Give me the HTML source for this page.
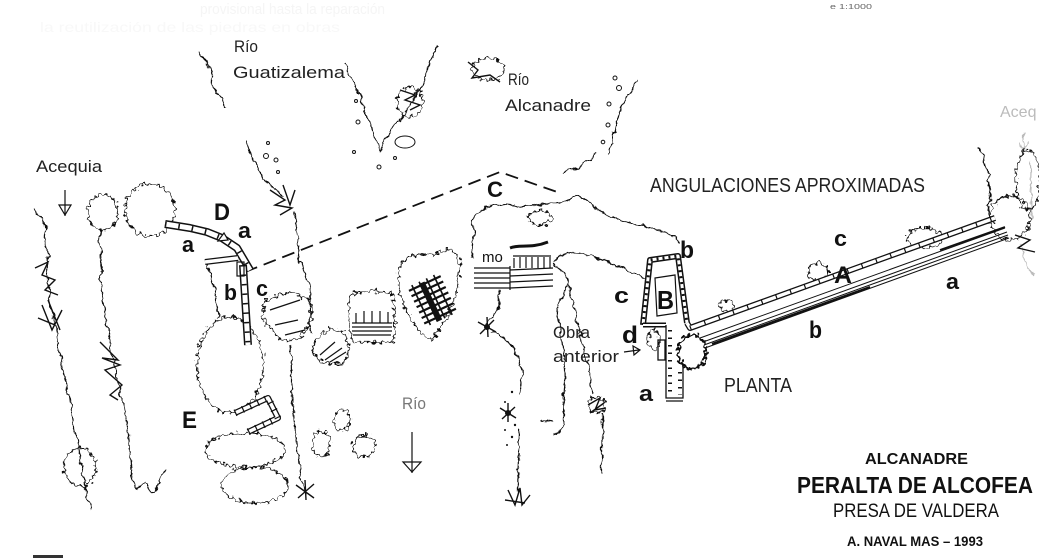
<!DOCTYPE html>
<html><head><meta charset="utf-8"><style>
html,body{margin:0;padding:0;background:#fff;}
svg{display:block;}
text{font-family:"Liberation Sans",sans-serif;}
</style></head><body>
<svg width="1039" height="559" viewBox="0 0 1039 559" xmlns="http://www.w3.org/2000/svg">
<defs>
<filter id="w1" x="0" y="0" width="1039" height="559" filterUnits="userSpaceOnUse">
<feTurbulence type="fractalNoise" baseFrequency="0.11" numOctaves="3" seed="4" result="t"/>
<feDisplacementMap in="SourceGraphic" in2="t" scale="7" xChannelSelector="R" yChannelSelector="G"/>
</filter>
<filter id="w2" x="0" y="0" width="1039" height="559" filterUnits="userSpaceOnUse">
<feTurbulence type="fractalNoise" baseFrequency="0.28" numOctaves="1" seed="9" result="t"/>
<feDisplacementMap in="SourceGraphic" in2="t" scale="10" xChannelSelector="R" yChannelSelector="G"/>
</filter>
</defs>
<rect width="1039" height="559" fill="#fff"/>

<!-- faint bleed-through -->
<text x="200" y="14" font-size="15" fill="#f5f5f5" textLength="185" lengthAdjust="spacingAndGlyphs">provisional hasta la reparación</text>
<text x="40" y="32" font-size="14" fill="#f8f8f8" textLength="300" lengthAdjust="spacingAndGlyphs">la reutilización de las piedras en obras</text>
<text x="830" y="9" font-size="7" fill="#666" textLength="42" lengthAdjust="spacingAndGlyphs">e 1:1000</text>

<!-- thin wiggly lines -->
<g fill="none" stroke="#111" stroke-width="1.2" filter="url(#w1)">
<path d="M198,52 C205,60 215,70 212,80 C210,90 225,95 226,108"/>
<path d="M345,63 C355,85 362,100 368,118 C372,130 376,140 380,150 C385,140 390,132 398,122 C410,105 420,90 425,75 C430,62 435,52 437,45"/>
<path d="M638,80 C630,95 622,100 620,110 C615,130 612,140 608,155"/>
<path d="M597,152 C590,158 585,165 575,168 C570,170 567,172 563,174"/>
<path d="M247,140 C250,155 258,165 262,178 C268,185 278,190 285,196"/>
<path d="M293,213 C296,230 300,240 298,255 C300,270 312,280 310,300 C312,315 308,325 312,335"/>
<path d="M290,345 C293,370 290,390 293,410 C295,430 298,450 300,470 C302,480 305,488 306,493"/>
<path d="M33,210 C40,215 48,222 45,232 C42,245 50,250 48,262 C45,275 52,290 48,300 C52,315 60,330 58,340 C62,360 64,380 70,395 C72,420 76,440 80,455 C82,475 86,495 92,510"/>
<path d="M100,230 C98,250 104,265 100,280 C105,300 104,310 108,330 C112,350 112,360 116,370 C118,390 125,410 128,430 C130,450 132,470 134,487 C140,497 145,470 150,490 C155,500 160,480 165,470"/>
<path d="M207,262 C212,270 208,280 215,290 C212,300 220,310 218,318"/>
<path d="M473,258 C470,245 476,235 472,222 C474,212 485,208 495,205 C510,200 520,210 535,205 C550,200 560,210 575,195 C590,200 600,215 615,218 C630,222 640,225 655,230 C668,232 676,236 679,243"/>
<path d="M553,262 C565,250 580,250 595,258 C610,262 625,270 645,278"/>
<path d="M500,290 C495,300 505,305 495,315 C488,322 485,325 487,330"/>
<path d="M490,332 C505,335 510,345 515,350 C520,365 525,375 520,395"/>
<path d="M520,430 C520,445 517,465 518,492"/>
<path d="M553,263 C560,268 570,275 568,283 C562,300 556,310 557,317 C562,340 566,360 565,383 C563,400 564,415 563,427 C560,432 556,434 553,435"/>
<path d="M568,283 C575,310 585,350 593,393"/>
<path d="M602,413 L602,473"/>
<path d="M540,420 C545,423 550,423 553,421"/>
<path d="M978,148 C990,155 980,165 990,175 C985,185 995,195 988,205 C992,210 985,215 995,222"/>
</g>
<g fill="none" stroke="#bbb" stroke-width="1.2" filter="url(#w1)">
<path d="M1030,160 C1035,180 1025,200 1033,220"/>
<path d="M1020,245 C1030,255 1020,265 1035,275"/>
<path d="M1024,132 L1024,150 M1019,143 L1024,150 L1029,143"/>
</g>
<text x="1000" y="117" font-size="16" fill="#bbb">Aceq</text>

<!-- scalloped blobs -->
<g fill="none" stroke="#111" stroke-width="1.2" filter="url(#w2)">
<ellipse cx="103" cy="212" rx="15" ry="18"/>
<ellipse cx="150" cy="210" rx="25" ry="26"/>
<ellipse cx="230" cy="365" rx="33" ry="48"/>
<ellipse cx="245" cy="450" rx="40" ry="17"/>
<ellipse cx="255" cy="485" rx="33" ry="18"/>
<path d="M265,300 L290,292 L310,300 L312,320 L298,340 L280,340 L262,318 Z"/>
<path d="M315,340 L330,328 L345,333 L350,350 L342,365 L322,362 L312,352 Z"/>
<path d="M350,294 L370,290 L393,294 L395,320 L394,342 L352,342 L348,318 Z"/>
<path d="M400,265 C410,255 420,252 430,256 L445,250 C452,248 458,255 460,262 L458,285 C455,300 448,318 442,325 L432,340 C420,335 410,320 404,305 C398,290 396,275 400,265 Z"/>
<ellipse cx="321" cy="444" rx="9" ry="13"/>
<ellipse cx="342" cy="420" rx="8" ry="11"/>
<ellipse cx="364" cy="446" rx="11" ry="11"/>
<ellipse cx="80" cy="467" rx="16" ry="19"/>
<ellipse cx="488" cy="69" rx="16" ry="11"/>
<ellipse cx="410" cy="102" rx="13" ry="15"/>
<ellipse cx="1010" cy="218" rx="20" ry="22"/>
<ellipse cx="1028" cy="180" rx="12" ry="30"/>
<ellipse cx="925" cy="238" rx="18" ry="10"/>
<ellipse cx="818" cy="272" rx="10" ry="9"/>
<ellipse cx="727" cy="306" rx="7" ry="6"/>
<ellipse cx="654" cy="340" rx="6" ry="10"/>
<ellipse cx="597" cy="405" rx="8" ry="8"/>
<ellipse cx="540" cy="218" rx="12" ry="7"/>
</g>
<g fill="none" stroke="#111" stroke-width="2.4" filter="url(#w2)">
<ellipse cx="692" cy="352" rx="14" ry="17"/>
</g>
<path d="M510,248 C520,244 530,249 548,242" stroke="#111" stroke-width="3" fill="none"/>

<!-- dashed line -->
<path d="M245,272 L500,172 L560,193" fill="none" stroke="#111" stroke-width="1.8" stroke-dasharray="13 7"/>

<!-- walls -->
<g fill="none" stroke-linejoin="round">
<polyline points="165,224 190,228 207,232 222,238 237,248 250,270" stroke="#111" stroke-width="8"/>
<polyline points="165,224 190,228 207,232 222,238 237,248 250,270" stroke="#fff" stroke-width="5"/>
<polyline points="165,224 190,228 207,232 222,238 237,248 250,270" stroke="#111" stroke-width="5" stroke-dasharray="1.5 12"/>
<path d="M205,262 L238,258" stroke="#111" stroke-width="6"/>
<path d="M205,262 L238,258" stroke="#fff" stroke-width="3.5"/>
<path d="M243,265 L248,345" stroke="#111" stroke-width="8"/>
<path d="M243,265 L248,345" stroke="#fff" stroke-width="5"/>
<path d="M243,265 L248,345" stroke="#111" stroke-width="5" stroke-dasharray="1.5 8"/>
<polyline points="235,413 268,398 278,418 248,432" stroke="#111" stroke-width="6"/>
<polyline points="235,413 268,398 278,418 248,432" stroke="#fff" stroke-width="3.5"/>
<polyline points="235,413 268,398 278,418 248,432" stroke="#111" stroke-width="7" stroke-dasharray="1.2 7"/>
<path d="M643,325 L650,260 L678,256 L687,323" stroke="#111" stroke-width="6"/>
<path d="M643,325 L650,260 L678,256 L687,323" stroke="#fff" stroke-width="3"/>
<path d="M643,325 L650,260 L678,256 L687,323" stroke="#111" stroke-width="3" stroke-dasharray="2 4"/>
<path d="M643,325 L666,325" stroke="#111" stroke-width="5"/>
<path d="M643,325 L666,325" stroke="#fff" stroke-width="2"/>
<path d="M687,323 L690,328 L995,218" stroke="#111" stroke-width="6"/>
<path d="M687,323 L690,328 L995,218" stroke="#fff" stroke-width="3.4"/>
<path d="M690,328 L995,218" stroke="#111" stroke-width="5" stroke-dasharray="1.2 14"/>
</g>
<polygon points="655,278 675,275 677,313 657,316" fill="none" stroke="#111" stroke-width="1.2"/>
<rect x="237" y="262" width="7" height="14" fill="none" stroke="#111" stroke-width="1.2"/>
<polygon points="218,241 224,233 228,240" fill="#fff" stroke="#111" stroke-width="1.2"/>

<g fill="none" stroke="#111" stroke-width="1.3">
<path d="M666,325 L666,398 L683,398 L683,368"/>
<path d="M666,401 L683,401"/>
<path d="M670,330 L670,395" stroke-dasharray="1.5 6" stroke-width="4"/>
<path d="M680,372 L680,395" stroke-dasharray="1.5 6" stroke-width="4"/>
<rect x="658" y="340" width="7" height="20"/>
</g>

<g fill="none" stroke="#111" stroke-width="1">
<path d="M700,338 L1005,228"/>
<path d="M703,342 L1007,232"/>
<path d="M704,345 L1008,235"/>
<path d="M705,348 L1009,238"/>
<path d="M712,344 L870,287" stroke-width="2.2"/>
<path d="M940,250 L1005,227" stroke-width="1.8"/>
</g>

<g fill="none" stroke="#111" stroke-width="1.2">
<path d="M352,323 L392,323 M352,327 L392,327 M352,331 L392,331 M353,335 L391,335"/>
<path d="M356,313 L356,323 M364,311 L364,323 M372,311 L372,323 M380,311 L380,323 M388,312 L388,323"/>
<path d="M474,268 L510,268 M474,273 L510,273 M474,278 L510,278 M474,283 L510,283 M474,288 L510,288"/>
<path d="M510,270 L553,268 M510,276 L553,274 M510,282 L553,280 M510,288 L553,286"/>
<path d="M514,258 L514,268 M520,257 L520,268 M526,257 L526,268 M532,257 L532,268 M538,257 L538,268 M544,257 L544,268 M550,257 L550,268 M513,256 L551,256"/>
<path d="M510,266 L510,290"/>
<path d="M270,310 L300,300 M275,325 L298,320 M285,335 L305,330"/>
<path d="M320,355 L335,342 M325,360 L342,348 M330,362 L346,352"/>
</g>
<g stroke="#111" fill="none">
<g transform="rotate(-25 432 300)">
<path d="M415,282 L450,282 M415,288 L450,288 M415,294 L450,294 M415,300 L450,300 M415,306 L450,306 M415,312 L450,312 M415,318 L450,318" stroke-width="2.2"/>
<path d="M420,278 L420,322 M428,278 L428,322 M436,278 L436,322 M444,278 L444,322" stroke-width="1.6"/>
<path d="M430,280 L430,322" stroke-width="6"/>
</g>
</g>
<text x="482" y="262" font-size="15" fill="#111">mo</text>

<g fill="none" stroke="#111" stroke-width="1.4">
<path d="M478,322 L496,332 M480,334 L494,320 M487,317 L488,337"/>
<path d="M500,408 L516,418 M502,419 L515,407 M508,403 L508,422"/>
<path d="M296,485 L314,498 M298,498 L314,484 M305,480 L306,500"/>
<path d="M270,190 L285,200 L275,205 L292,208 L280,215 M283,185 L290,205 L295,190"/>
<path d="M35,268 L48,262 L42,275 L55,280 L45,290 L58,295"/>
<path d="M38,318 L55,325 M42,305 L52,330 L62,310 M48,300 L60,330"/>
<path d="M100,342 L118,360 L102,358 L120,365 L105,370 L122,385 L110,395 L118,400"/>
<path d="M508,490 L515,505 L520,488 L522,505 L530,495 M505,500 L525,503"/>
<path d="M588,405 L600,398 L595,410 L606,408 M590,413 L604,403"/>
<path d="M400,90 L415,95 L405,100 L420,105 L410,110"/>
<path d="M468,62 L478,70 L472,78 L490,75 L500,82"/>
<path d="M1015,235 L1030,240 L1018,248 L1035,252"/>
</g>
<g fill="#111">
<circle cx="487" cy="327" r="3"/><circle cx="508" cy="413" r="3"/>
<circle cx="512" cy="392" r="1.2"/><circle cx="505" cy="402" r="1"/><circle cx="515" cy="425" r="1.2"/><circle cx="505" cy="430" r="1"/><circle cx="512" cy="437" r="1.2"/><circle cx="507" cy="445" r="1"/>
</g>
<g fill="none" stroke="#111" stroke-width="1">
<circle cx="268" cy="143" r="1.5"/><circle cx="266" cy="156" r="2.5"/><circle cx="276" cy="160" r="2"/><circle cx="278" cy="172" r="1.5"/>
<circle cx="356" cy="101" r="1.5"/><circle cx="358" cy="122" r="2"/><circle cx="354" cy="152" r="1.5"/><ellipse cx="405" cy="142" rx="10" ry="6"/><circle cx="379" cy="167" r="2"/><circle cx="395" cy="158" r="1.5"/>
<circle cx="615" cy="78" r="2"/><circle cx="619" cy="88" r="2.5"/><circle cx="609" cy="104" r="2"/><circle cx="608" cy="125" r="2"/><circle cx="603" cy="142" r="1.8"/>
</g>

<g fill="none" stroke="#111" stroke-width="1.2">
<path d="M65,190 L65,216"/><polygon points="59,205 71,205 65,215"/>
<path d="M412,432 L412,473"/><polygon points="403,462 421,462 412,472"/>
<path d="M624,352 L639,350"/><polygon points="633,346 640,350 634,355"/>
</g>
<rect x="33" y="555" width="30" height="3" fill="#333"/>

<g fill="#222" font-size="17">
<text x="234" y="52" textLength="24" lengthAdjust="spacingAndGlyphs">Río</text>
<text x="233" y="78" textLength="112" lengthAdjust="spacingAndGlyphs">Guatizalema</text>
<text x="508" y="85" textLength="21" lengthAdjust="spacingAndGlyphs">Río</text>
<text x="505" y="111" textLength="86" lengthAdjust="spacingAndGlyphs">Alcanadre</text>
<text x="36" y="172" textLength="66" lengthAdjust="spacingAndGlyphs">Acequia</text>
<text x="650" y="192" font-size="20" textLength="275" lengthAdjust="spacingAndGlyphs">ANGULACIONES APROXIMADAS</text>
<text x="553" y="338" textLength="37" lengthAdjust="spacingAndGlyphs">Obra</text>
<text x="553" y="362" textLength="66" lengthAdjust="spacingAndGlyphs">anterior</text>
<text x="724" y="392" font-size="20" textLength="68" lengthAdjust="spacingAndGlyphs">PLANTA</text>
<text x="402" y="409" fill="#777" textLength="24" lengthAdjust="spacingAndGlyphs">Río</text>
</g>

<g fill="#111" font-weight="bold">
<text x="214" y="220" font-size="24" textLength="16" lengthAdjust="spacingAndGlyphs">D</text>
<text x="182" y="252" font-size="22" textLength="12" lengthAdjust="spacingAndGlyphs">a</text>
<text x="238" y="238" font-size="22" textLength="13" lengthAdjust="spacingAndGlyphs">a</text>
<text x="224" y="300" font-size="22" textLength="13" lengthAdjust="spacingAndGlyphs">b</text>
<text x="256" y="296" font-size="22" textLength="12" lengthAdjust="spacingAndGlyphs">c</text>
<text x="182" y="428" font-size="24" textLength="15" lengthAdjust="spacingAndGlyphs">E</text>
<text x="487" y="197" font-size="22" textLength="16" lengthAdjust="spacingAndGlyphs">C</text>
<text x="680" y="258" font-size="24" textLength="14" lengthAdjust="spacingAndGlyphs">b</text>
<text x="834" y="246" font-size="22" textLength="13" lengthAdjust="spacingAndGlyphs">c</text>
<text x="834" y="283" font-size="24" textLength="18" lengthAdjust="spacingAndGlyphs">A</text>
<text x="946" y="289" font-size="22" textLength="13" lengthAdjust="spacingAndGlyphs">a</text>
<text x="614" y="303" font-size="22" textLength="15" lengthAdjust="spacingAndGlyphs">c</text>
<text x="657" y="309" font-size="26" textLength="17" lengthAdjust="spacingAndGlyphs">B</text>
<text x="622" y="343" font-size="24" textLength="16" lengthAdjust="spacingAndGlyphs">d</text>
<text x="809" y="338" font-size="24" textLength="13" lengthAdjust="spacingAndGlyphs">b</text>
<text x="639" y="401" font-size="22" textLength="14" lengthAdjust="spacingAndGlyphs">a</text>
</g>

<g fill="#111" font-weight="bold">
<text x="865" y="464" font-size="16" textLength="103" lengthAdjust="spacingAndGlyphs">ALCANADRE</text>
<text x="797" y="493" font-size="23" textLength="236" lengthAdjust="spacingAndGlyphs">PERALTA DE ALCOFEA</text>
<text x="847" y="546" font-size="13.5" textLength="136" lengthAdjust="spacingAndGlyphs">A. NAVAL MAS – 1993</text>
</g>
<text x="833" y="517" font-size="19" fill="#111" textLength="166" lengthAdjust="spacingAndGlyphs">PRESA DE VALDERA</text>
</svg>
</body></html>
